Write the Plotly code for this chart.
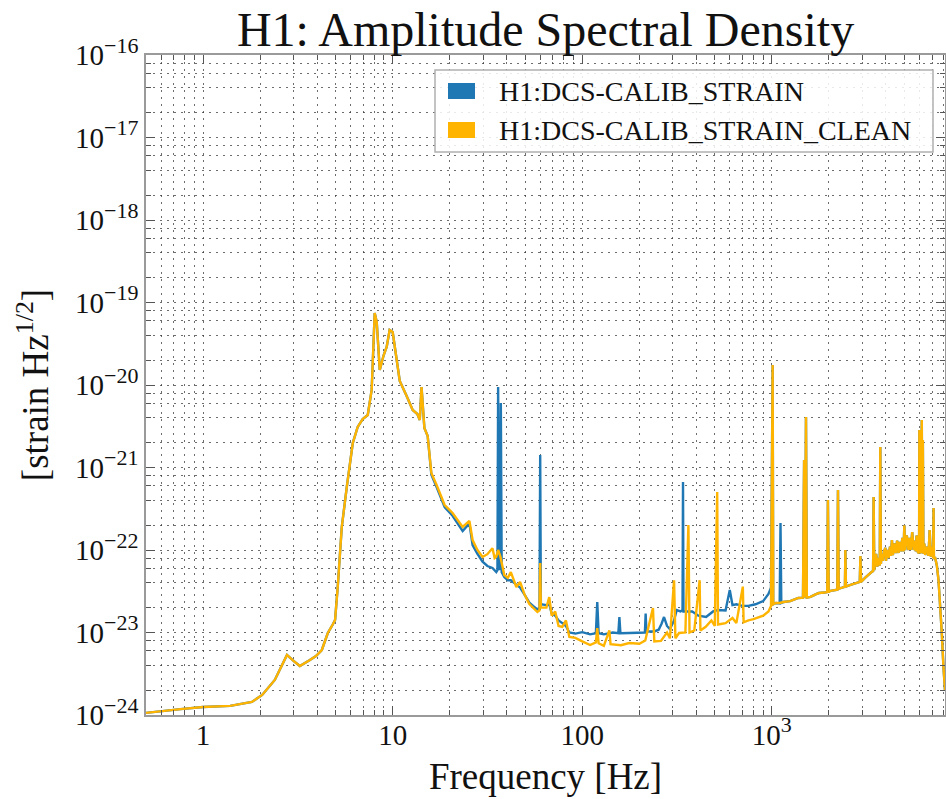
import math
import plotly.graph_objects as go

# ---------------- data ----------------
series_names = ["H1:DCS-CALIB_STRAIN", "H1:DCS-CALIB_STRAIN_CLEAN"]
series_colors = ["#1f77b4", "#ffb400"]

# 0.5 - 15 Hz: both channels identical
freq_low = [0.5, 0.6, 0.76, 1.0, 1.39, 1.81, 2.05, 2.39, 2.77, 3.0, 3.24, 3.66, 3.94,
            4.23, 4.55, 4.83, 4.97, 5.14, 5.39, 5.73, 6.16, 6.54, 6.95, 7.39, 7.75,
            8.04, 8.24, 8.55, 8.97, 9.3, 9.64, 10.0, 10.5, 10.9, 11.85, 12.75, 13.5,
            13.9, 14.2, 14.7, 15.3]
asd_low = [1.06e-24, 1.12e-24, 1.18e-24, 1.25e-24, 1.29e-24, 1.44e-24, 1.75e-24,
           2.66e-24, 5.34e-24, 4.52e-24, 3.93e-24, 4.64e-24, 5.19e-24, 6.14e-24,
           9.86e-24, 1.25e-23, 1.42e-23, 3.76e-23, 1.90e-22, 5.81e-22, 1.98e-21,
           3.10e-21, 3.87e-21, 4.33e-21, 8.7e-21, 7.46e-20, 5.8e-20, 1.52e-20,
           2.31e-20, 2.89e-20, 4.64e-20, 4.39e-20, 2.01e-20, 1.12e-20, 7.36e-21,
           4.98e-21, 4.45e-21, 3.77e-21, 9.45e-21, 3.01e-21, 2.41e-21]

# 16 - 1122 Hz: H1:DCS-CALIB_STRAIN
freq_strain_mid = [16.0, 17.05, 18.8, 20.7, 23.4, 25.4, 26.4, 28.0, 29.8, 31.6, 33.6,
                   35.2, 35.7, 36.0, 36.4, 36.8, 37.2, 37.6, 38.8, 40.5, 42.0, 44.9,
                   47.0, 49.5, 52.6, 55.0, 58.0, 59.5, 60.0, 60.5, 64.7, 67.0, 69.0,
                   72.0, 75.0, 78.5, 82.0, 85.5, 92.0, 100, 110, 118, 120, 122, 130,
                   145, 155, 157, 159, 177, 200, 214, 216, 218, 240, 253, 262, 270,
                   280, 290, 305, 315, 330, 338, 340, 342, 380, 410, 450, 490, 520,
                   570, 600, 620, 650, 700, 752, 820, 900, 960, 990, 1003, 1010,
                   1017, 1050, 1100, 1111, 1122]
asd_strain_mid = [8.2e-22, 5.8e-22, 3.3e-22, 2.6e-22, 1.7e-22, 2.1e-22, 1.15e-22,
                  9.0e-23, 7.2e-23, 6.4e-23, 6.05e-23, 5.4e-23, 5.7e-23, 9.45e-21,
                  6.6e-23, 5.7e-23, 6.05e-21, 5.4e-23, 4.7e-23, 4.3e-23, 4.3e-23,
                  3.8e-23, 3.5e-23, 2.9e-23, 2.3e-23, 2.1e-23, 1.9e-23, 2.0e-23,
                  1.42e-21, 2.2e-23, 2.15e-23, 2.2e-23, 1.7e-23, 1.6e-23, 1.4e-23,
                  1.3e-23, 1.2e-23, 1.0e-23, 9.7e-24, 1.01e-23, 9.5e-24, 9.8e-24,
                  2.34e-23, 9.8e-24, 9.5e-24, 1.0e-23, 9.8e-24, 1.54e-23, 9.8e-24,
                  9.86e-24, 1.0e-23, 1.0e-23, 1.7e-23, 1.03e-23, 1.03e-23, 1.08e-23,
                  1.28e-23, 1.54e-23, 1.2e-23, 1.1e-23, 1.4e-23, 1.87e-23, 1.8e-23,
                  1.87e-23, 6.67e-22, 1.8e-23, 1.8e-23, 1.6e-23, 1.54e-23, 1.8e-23,
                  1.87e-23, 1.85e-23, 3.27e-23, 2.15e-23, 2.2e-23, 2.1e-23, 2.1e-23,
                  2.2e-23, 2.4e-23, 2.93e-23, 3.5e-23, 3.77e-21, 1.75e-20, 2.2e-23,
                  2.28e-23, 2.25e-23, 2.12e-22, 2.28e-23]

# 16 - 1100 Hz: H1:DCS-CALIB_STRAIN_CLEAN
freq_clean_mid = [16.0, 17.05, 18.8, 20.7, 23.4, 25.4, 26.4, 28.0, 29.8, 31.6, 33.6,
                  34.5, 35.2, 36.0, 37.0, 38.8, 40.5, 42.0, 44.9, 47.0, 49.5, 52.6,
                  55.0, 58.0, 59.5, 60.0, 60.5, 64.7, 67.0, 69.0, 72.0, 75.0, 78.5,
                  82.0, 85.5, 92.0, 100, 110, 118, 120, 122, 130, 139, 141, 160, 177,
                  200, 215, 236, 240, 260, 280, 290, 305, 310, 324, 350, 363, 368,
                  390, 416, 420, 448, 480, 500, 515, 520, 570, 620, 650, 703, 710,
                  752, 800, 900, 960, 990, 1003, 1010, 1017, 1050, 1100]
asd_clean_mid = [8.57e-22, 6.14e-22, 3.51e-22, 2.81e-22, 1.90e-22, 2.25e-22, 1.32e-22,
                 1.0e-22, 8.22e-23, 8.9e-23, 1.05e-22, 8.0e-23, 8.3e-23, 1.0e-22,
                 8.3e-23, 4.98e-23, 4.6e-23, 5.4e-23, 3.56e-23, 4.1e-23, 2.93e-23,
                 2.21e-23, 2.0e-23, 1.77e-23, 1.85e-23, 6.96e-23, 2.0e-23, 2.0e-23,
                 2.69e-23, 1.6e-23, 1.8e-23, 1.2e-23, 1.17e-23, 1.4e-23, 8.81e-24,
                 8.6e-24, 7.8e-24, 7.05e-24, 7.6e-24, 1.13e-23, 7.4e-24, 6.9e-24,
                 1.06e-23, 7.2e-24, 7.0e-24, 7.46e-24, 7.3e-24, 8.0e-24, 1.98e-23,
                 7.8e-24, 7.9e-24, 1.0e-23, 8.5e-24, 4.3e-23, 8.5e-24, 9.86e-24,
                 1.0e-23, 2.01e-22, 1.0e-23, 1.06e-23, 4.3e-23, 1.06e-23, 1.17e-23,
                 1.4e-23, 1.2e-23, 5.05e-22, 1.25e-23, 1.3e-23, 1.5e-23, 1.3e-23,
                 3.6e-23, 1.33e-23, 1.4e-23, 1.45e-23, 1.6e-23, 1.8e-23, 2.1e-23,
                 3.77e-21, 1.75e-20, 2.2e-23, 2.28e-23, 2.28e-23]

# 1150 - 8192 Hz: both channels identical
freq_high = [1150, 1250, 1380, 1460, 1480, 1495, 1514, 1530,
             1600, 1700, 1770, 1900, 1960, 1976, 1995, 2040,
             2150, 2215, 2233, 2252, 2350, 2430, 2443, 2460,
             2600, 2750, 2870, 2910, 2932, 2955, 3100, 3250,
             3357, 3420, 3443, 3470, 3550, 3600, 3650, 3710,
             3733, 3760, 3800, 3850, 3900, 3970, 4000, 4060,
             4128, 4200, 4250, 4300, 4350, 4420, 4500, 4580,
             4660, 4730, 4800, 4880, 4950, 5000, 5050, 5150,
             5260, 5330, 5400, 5500, 5600, 5700, 5750, 5800,
             5900, 5980, 6000, 6060, 6120, 6180, 6220, 6260,
             6300, 6370, 6440, 6550, 6700, 6800, 6900, 7000,
             7100, 7130, 7160, 7270, 7420, 7570, 7730, 7880,
             8040, 8192]
asd_high = [2.34e-23, 2.4e-23, 2.62e-23, 2.65e-23, 1.23e-21, 2.65e-23, 4.09e-21, 2.65e-23,
            2.7e-23, 2.9e-23, 3.01e-23, 3.05e-23, 3.1e-23, 4.04e-22, 3.1e-23, 3.2e-23,
            3.3e-23, 3.3e-23, 5.34e-22, 3.4e-23, 3.5e-23, 3.6e-23, 1.0e-22, 3.6e-23,
            3.77e-23, 3.9e-23, 4.0e-23, 4.1e-23, 8.46e-23, 4.1e-23, 4.58e-23, 5.1e-23,
            5.4e-23, 5.55e-23, 4.39e-22, 5.7e-23, 9.0e-23, 6.3e-23, 8.0e-23, 6.5e-23,
            1.77e-21, 6.8e-23, 9.0e-23, 7.4e-23, 9.5e-23, 1.06e-22, 7.4e-23, 1.0e-22,
            8.0e-23, 1.1e-22, 8.5e-23, 1.32e-22, 8.7e-23, 1.2e-22, 9.2e-23, 1.3e-22,
            9.2e-23, 1.25e-22, 9.6e-23, 1.4e-22, 9.6e-23, 2.0e-22, 1.0e-22, 1.5e-22,
            1.0e-22, 1.4e-22, 1.0e-22, 1.65e-22, 1.0e-22, 1.3e-22, 9.6e-23, 1.5e-22,
            9.4e-23, 9.2e-23, 2.85e-21, 9.2e-23, 9.4e-23, 3.77e-21, 9.2e-23, 2.15e-21,
            9.0e-23, 1.2e-22, 8.7e-23, 1.1e-22, 8.5e-23, 1.75e-22, 8.3e-23, 1.1e-22,
            8.0e-23, 3.23e-22, 8.0e-23, 8.0e-23, 6.5e-23, 4.33e-23, 2.2e-23, 9.86e-24,
            3.82e-24, 2.0e-24]

x_tick_values = [1, 10, 100, 1000]
x_tick_labels = ["1", "10", "100", "10<sup><span style='font-size:22px'>3</span></sup>"]
y_decades = list(range(-24, -15))
y_tick_labels = ["10<sup><span style='font-size:22px'>\u2212%d</span></sup>" % (-d)
                 for d in y_decades]

title_text = "H1: Amplitude Spectral Density"
x_title = "Frequency [Hz]"
y_title = "[strain Hz<sup>1/2</sup>]"

# ---------------- figure ----------------
W, H = 946, 799
ML, MR, MT, MB = 146, 1, 55, 84
PW, PH = W - ML - MR, H - MT - MB

def px(xp):
    return (xp - ML) / PW

def py(yp):
    return 1 - (yp - MT) / PH

FONT = "Liberation Serif, Times New Roman, DejaVu Serif, serif"
TXT = "#111111"

strain_f = freq_low + freq_strain_mid + freq_high
strain_a = asd_low + asd_strain_mid + asd_high
clean_f = freq_low + freq_clean_mid + freq_high
clean_a = asd_low + asd_clean_mid + asd_high

fig = go.Figure()
fig.add_trace(go.Scatter(x=strain_f, y=strain_a, mode="lines", name=series_names[0],
                         line=dict(color=series_colors[0], width=2.4), showlegend=False))
fig.add_trace(go.Scatter(x=clean_f, y=clean_a, mode="lines", name=series_names[1],
                         line=dict(color=series_colors[1], width=2.4), showlegend=False))

grid_col = "rgba(60,60,60,0.75)"
grid_dash = "2px,5px"

x_minor = []
for e in range(-1, 4):
    for k in range(2, 10):
        v = k * 10 ** e
        if 0.5 <= v <= 8192:
            x_minor.append(v)
y_minor = []
for e in range(-24, -16):
    for k in (2, 4, 6, 8):
        y_minor.append(k * 10.0 ** e)

axis_common = dict(
    type="log", showline=True, linecolor="#9a9a9a", linewidth=1.5, mirror="ticks",
    ticks="inside", ticklen=9, tickwidth=1.2, tickcolor="#555555",
    showgrid=True, gridcolor=grid_col, griddash=grid_dash, gridwidth=1,
    zeroline=False, tickfont=dict(family=FONT, size=29, color=TXT),
)

fig.update_xaxes(
    **axis_common,
    range=[math.log10(0.5), math.log10(8192)],
    tickmode="array", tickvals=x_tick_values, ticktext=x_tick_labels,
    ticklabelstandoff=-7,
    minor=dict(tickmode="array", tickvals=x_minor, ticks="inside", ticklen=5,
               tickwidth=1, tickcolor="#555555", showgrid=True,
               gridcolor=grid_col, griddash=grid_dash, gridwidth=1),
    title=dict(text=x_title, font=dict(family=FONT, size=37, color=TXT), standoff=14),
)
fig.update_yaxes(
    **axis_common,
    range=[-24, -16],
    tickmode="array", tickvals=[10.0 ** d for d in y_decades], ticktext=y_tick_labels,
    minor=dict(tickmode="array", tickvals=y_minor, ticks="inside", ticklen=5,
               tickwidth=1, tickcolor="#555555", showgrid=True,
               gridcolor=grid_col, griddash=grid_dash, gridwidth=1),
    title=dict(text=y_title, font=dict(family=FONT, size=37, color=TXT), standoff=15),
)

# legend drawn as a matplotlib-style box with colour patches
shapes = [dict(type="rect", xref="paper", yref="paper",
               x0=px(435), x1=px(933), y0=py(152), y1=py(70),
               line=dict(color="#b0b0b0", width=1.5),
               fillcolor="rgba(255,255,255,0.85)", layer="above")]
annotations = []
for i, (name, col) in enumerate(zip(series_names, series_colors)):
    cy = 91 + i * 39
    shapes.append(dict(type="rect", xref="paper", yref="paper",
                       x0=px(448), x1=px(475), y0=py(cy + 8), y1=py(cy - 8),
                       line=dict(width=0), fillcolor=col, layer="above"))
    annotations.append(dict(xref="paper", yref="paper", x=px(497), y=py(cy),
                            xanchor="left", yanchor="middle", showarrow=False,
                            text=name,
                            font=dict(family=FONT, size=28, color=TXT)))

fig.update_layout(
    width=W, height=H,
    margin=dict(l=ML, r=MR, t=MT, b=MB, autoexpand=False),
    paper_bgcolor="white", plot_bgcolor="white",
    title=dict(text=title_text, x=0.5, xref="paper", xanchor="center",
               y=1 - 29 / H, yref="container", yanchor="middle",
               font=dict(family=FONT, size=48, color=TXT)),
    shapes=shapes, annotations=annotations,
    showlegend=False,
)

fig.write_html("out.html", config={"displayModeBar": False},
               post_script="document.body.style.margin='0';document.body.style.overflow='hidden';")
